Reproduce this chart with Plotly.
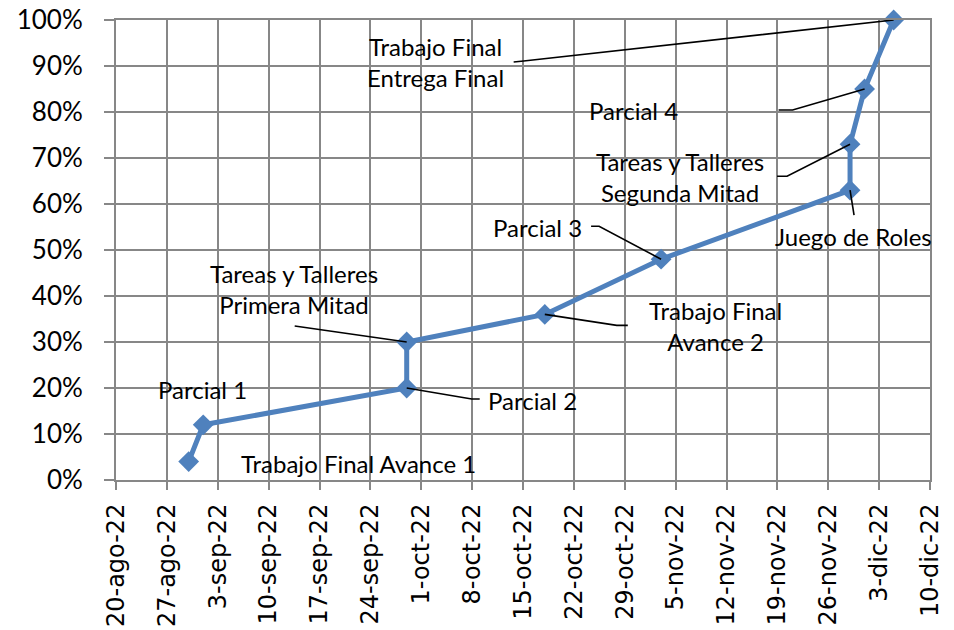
import plotly.graph_objects as go

# ---- data ----
dates = ["2022-08-30", "2022-09-01", "2022-09-29", "2022-09-29", "2022-10-18",
         "2022-11-03", "2022-11-29", "2022-11-29", "2022-12-01", "2022-12-05"]
values = [0.04, 0.12, 0.20, 0.30, 0.36, 0.48, 0.63, 0.73, 0.85, 1.00]
labels = ["Trabajo Final Avance 1", "Parcial 1", "Parcial 2",
          "Tareas y Talleres<br>Primera Mitad", "Trabajo Final<br>Avance 2",
          "Parcial 3", "Juego de Roles", "Tareas y Talleres<br>Segunda Mitad",
          "Parcial 4", "Trabajo Final<br>Entrega Final"]
tick_dates = ["2022-08-20", "2022-08-27", "2022-09-03", "2022-09-10", "2022-09-17",
              "2022-09-24", "2022-10-01", "2022-10-08", "2022-10-15", "2022-10-22",
              "2022-10-29", "2022-11-05", "2022-11-12", "2022-11-19", "2022-11-26",
              "2022-12-03", "2022-12-10"]
tick_text = ["20-ago-22", "27-ago-22", "3-sep-22", "10-sep-22", "17-sep-22",
             "24-sep-22", "1-oct-22", "8-oct-22", "15-oct-22", "22-oct-22",
             "29-oct-22", "5-nov-22", "12-nov-22", "19-nov-22", "26-nov-22",
             "3-dic-22", "10-dic-22"]
y_ticks = [0, 0.1, 0.2, 0.3, 0.4, 0.5, 0.6, 0.7, 0.8, 0.9, 1.0]

# ---- layout helpers (pixel offsets relative to each point, screen coords: y down) ----
label_offsets = [(170, 2), (-1, -35), (126, 12), (-113, -53), (171, 12),
                 (-124, -32), (3, 46), (-170, 33), (-231, 21), (-458, 42)]
leader_paths = [None, None, [(65, 11), (73, 11)], [(-112, -16)],
                [(72, 11), (83, 11)], [(-62, -33), (-70, -33)], [(4, 25)],
                [(-63, 32), (-73, 32)], [(-72, 21), (-86, 21)],
                [(-370, 41), (-380, 42)]]

BLUE = "#4F81BD"
GRID = "#878787"
FONT = "Lato"

fig = go.Figure()
fig.add_trace(go.Scatter(
    x=dates, y=values, mode="lines+markers", cliponaxis=False,
    line=dict(color=BLUE, width=5),
    marker=dict(symbol="diamond", size=16, color=BLUE),
    showlegend=False, hoverinfo="skip"))

annotations = []
shapes = []
for d, v, lab, (dx, dy), path in zip(dates, values, labels, label_offsets, leader_paths):
    annotations.append(dict(
        x=d, y=v, xref="x", yref="y", text=lab, showarrow=False,
        xshift=dx, yshift=-dy, xanchor="center", yanchor="middle", align="center",
        font=dict(family=FONT, size=24, color="#000000")))
    if path:
        pts = [(0, 0)] + path
        p = "M " + " L ".join(f"{px},{-py}" for px, py in pts)
        shapes.append(dict(
            type="path", xref="x", yref="y", xsizemode="pixel", ysizemode="pixel",
            xanchor=d, yanchor=v, path=p,
            line=dict(color="#000000", width=1.6), layer="above"))

fig.update_layout(
    width=954, height=630,
    margin=dict(l=116, r=24, t=20, b=150, autoexpand=False),
    paper_bgcolor="white", plot_bgcolor="white",
    annotations=annotations, shapes=shapes,
    xaxis=dict(
        type="date", range=["2022-08-20", "2022-12-10"], automargin=False,
        tickvals=tick_dates, ticktext=tick_text, tickangle=-90,
        tickfont=dict(family="DejaVu Sans", size=24, color="#000000"),
        ticklabelstandoff=4, ticklabeloverflow="allow",
        showgrid=True, gridcolor=GRID, gridwidth=2,
        showline=True, linecolor=GRID, linewidth=2, mirror=True,
        ticks="outside", ticklen=8, tickcolor=GRID, tickwidth=2,
        zeroline=False),
    yaxis=dict(
        range=[0, 1], tickvals=y_ticks, tickformat=".0%", automargin=False,
        tickfont=dict(family=FONT, size=26, color="#000000"),
        ticklabelstandoff=16, ticklabeloverflow="allow",
        showgrid=True, gridcolor=GRID, gridwidth=2,
        showline=True, linecolor=GRID, linewidth=2, mirror=True,
        ticks="outside", ticklen=10, tickcolor=GRID, tickwidth=2,
        zeroline=False),
)

fig.write_html("out.html",
               config={"displayModeBar": False, "staticPlot": True},
               post_script="document.body.style.margin='0';document.body.style.overflow='hidden';")
